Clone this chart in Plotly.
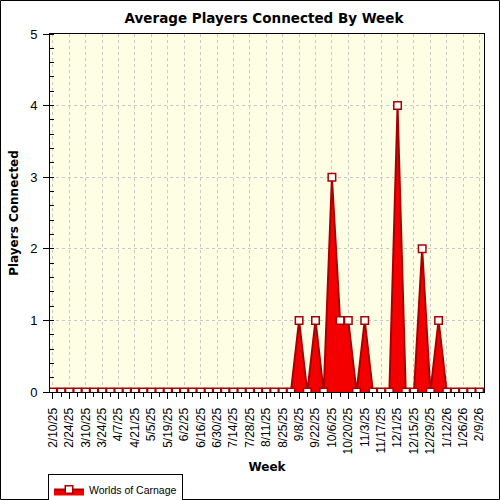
import pandas as pd
import plotly.graph_objects as go

# weekly samples, 2/10/25 .. 2/9/26
weeks = pd.date_range("2025-02-10", "2026-02-09", freq="7D")
players = [0, 0, 0, 0, 0, 0, 0, 0, 0, 0,
           0, 0, 0, 0, 0, 0, 0, 0, 0, 0,
           0, 0, 0, 0, 0, 0, 0, 0, 0, 0,
           1, 0, 1, 0, 3, 1, 1, 0, 1, 0,
           0, 0, 4, 0, 0, 2, 0, 1, 0, 0,
           0, 0, 0]
series_name = "Worlds of Carnage"

W, H = 500, 500
L, R, T, B = 50, 16, 34, 108
pw, ph = W - L - R, H - T - B

FONT = "Liberation Sans, Arial, sans-serif"
BOLD_FONT = "DejaVu Sans, Verdana, sans-serif"
x_range = ["2025-02-07 12:00", "2026-02-12 18:00"]
WEEK_MS = 7 * 24 * 3600 * 1000

fig = go.Figure()
fig.add_trace(go.Scatter(
    x=weeks,
    y=players,
    name=series_name,
    mode="lines+markers",
    fill="tozeroy",
    fillcolor="#F40000",
    line=dict(color="#A80000", width=2),
    marker=dict(symbol="square", size=7.5, color="white",
                line=dict(color="#A80000", width=1.5)),
))

fig.update_layout(
    width=W, height=H,
    margin=dict(l=L, r=R, t=T, b=B, autoexpand=False),
    paper_bgcolor="white",
    plot_bgcolor="#FEFEE4",
    font=dict(family=FONT, size=12, color="black"),
    title=dict(text="<b>Average Players Connected By Week</b>",
               x=264 / W, xanchor="center", y=1 - 18 / H, yanchor="middle",
               font=dict(family=BOLD_FONT, size=13.5)),
    showlegend=True,
    legend=dict(x=-2 / pw, y=-(474 - (T + ph)) / ph, xanchor="left", yanchor="top",
                bordercolor="black", borderwidth=1, bgcolor="white",
                font=dict(size=10.5), itemwidth=30,
                tracegroupgap=0),
    xaxis=dict(
        type="date",
        range=x_range,
        automargin=False,
        tick0="2025-02-10", dtick=2 * WEEK_MS,
        tickformat="%-m/%-d/%y",
        tickangle=-90,
        ticks="outside", ticklen=6, tickcolor="black",
        ticklabelstandoff=4,
        showline=True, linecolor="black", linewidth=1, mirror=True,
        showgrid=True, gridcolor="#C8C8C8", griddash="dot", gridwidth=1,
        minor=dict(tick0="2025-02-10", dtick=WEEK_MS, ticks="outside",
                   ticklen=4, tickcolor="black", showgrid=False),
        zeroline=False,
        title=dict(text="<b>Week</b>", font=dict(family=BOLD_FONT, size=12),
                   standoff=9),
        tickfont=dict(size=12),
    ),
    yaxis=dict(
        range=[0, 5], dtick=1,
        automargin=False,
        ticks="outside", ticklen=6, tickcolor="black",
        ticklabelstandoff=3,
        showline=True, linecolor="black", linewidth=1, mirror=True,
        showgrid=True, gridcolor="#C8C8C8", griddash="dot", gridwidth=1,
        minor=dict(dtick=0.2, ticks="inside", ticklen=4, tickcolor="black",
                   showgrid=False),
        zeroline=False,
        title=dict(text="<b>Players Connected</b>",
                   font=dict(family=BOLD_FONT, size=12), standoff=8),
        tickfont=dict(size=13),
    ),
    # inward ticks along the top and right edges
    xaxis2=dict(
        type="date", range=x_range, overlaying="x", side="top",
        automargin=False,
        tick0="2025-02-10", dtick=WEEK_MS,
        ticks="inside", ticklen=4, tickcolor="black",
        showticklabels=False, showgrid=False, showline=False, zeroline=False,
    ),
    yaxis2=dict(
        range=[0, 5], overlaying="y", side="right", dtick=0.2,
        automargin=False,
        ticks="inside", ticklen=4, tickcolor="black",
        showticklabels=False, showgrid=False, showline=False, zeroline=False,
    ),
)

# frame around the whole picture
fig.add_shape(type="rect", xref="paper", yref="paper",
              x0=(0.5 - L) / pw, x1=(W - 0.5 - L) / pw,
              y0=-(H - 0.5 - T - ph) / ph, y1=(T + ph - 0.5) / ph,
              line=dict(color="black", width=1), fillcolor="rgba(0,0,0,0)",
              layer="above")

# the page's default body margin would push the chart 8px off the window
fig.write_html("out.html", config={"displayModeBar": False},
               post_script="document.body.style.margin='0';")
